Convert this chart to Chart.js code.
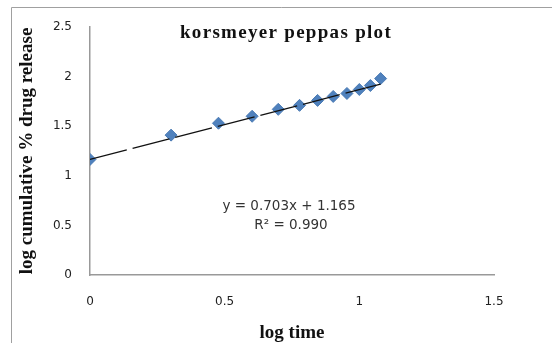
<!DOCTYPE html>
<html>
<head>
<meta charset="utf-8">
<script src="https://cdn.jsdelivr.net/npm/chart.js@4"></script>
<style>
  html, body { margin: 0; padding: 0; background: #fff; }
  #wrap { width: 552px; height: 343px; position: relative; }
</style>
</head>
<body>
<div id="wrap"><canvas id="kp-chart"></canvas></div>
<script>
// Data
const logTime = [0, 0.301, 0.477, 0.602, 0.699, 0.778, 0.845, 0.903, 0.954, 1.0, 1.041, 1.079];
const logRelease = [1.165, 1.41, 1.53, 1.60, 1.67, 1.71, 1.76, 1.80, 1.83, 1.87, 1.91, 1.98];

// Linear trendline end points
const trendX = [0, 1.079];
const trendY = [1.165, 1.924];

const chartTitle = "korsmeyer peppas plot";
const equationLines = ["y = 0.703x + 1.165", "R\u00B2 = 0.990"];

const xTicks = [0, 0.5, 1, 1.5];
const yTicks = [0, 0.5, 1, 1.5, 2, 2.5];

const ctx = document.getElementById("kp-chart").getContext("2d");

// frame, title and equation drawn on the canvas
const annotations = {
    id: "annotations",
    beforeDraw(chart) {
        const c = chart.ctx;
        c.save();
        c.strokeStyle = "#a0a0a0";
        c.lineWidth = 1;
        c.beginPath();
        c.moveTo(11.5, 343);
        c.lineTo(11.5, 7.5);
        c.lineTo(552, 7.5);
        c.stroke();
        c.restore();
    },
    afterDraw(chart) {
        const c = chart.ctx;
        const area = chart.chartArea;
        const mid = (area.left + area.right) / 2;
        c.save();
        c.fillStyle = "#111";
        c.font = "bold 19px 'Liberation Serif'";
        c.letterSpacing = "1.3px";
        c.textAlign = "center";
        c.textBaseline = "middle";
        c.fillText(chartTitle, mid - 6, 33);

        c.letterSpacing = "0px";
        c.fillStyle = "#333";
        c.font = "13.5px 'DejaVu Sans'";
        c.fillText(equationLines[0], mid - 3, 206);
        c.fillText(equationLines[1], mid - 1, 225);
        c.restore();
    },
};

const plainNumber = (v) => String(v);

new Chart(ctx, {
    type: "scatter",
    data: {
        datasets: [
            {
                label: "log cumulative % drug release",
                data: logTime.map((x, i) => ({ x: x, y: logRelease[i] })),
                pointStyle: "rectRot",
                pointRadius: 6,
                backgroundColor: "#4f81bd",
                borderColor: "#4a7ab3",
                borderWidth: 1,
                order: 2,
            },
            {
                label: "Linear",
                type: "line",
                data: trendX.map((x, i) => ({ x: x, y: trendY[i] })),
                borderColor: "#111",
                borderWidth: 1.3,
                borderDash: [38, 6],
                pointRadius: 0,
                fill: false,
                order: 1,
            },
        ],
    },
    plugins: [annotations],
    options: {
        responsive: true,
        maintainAspectRatio: false,
        animation: false,
        layout: { padding: { left: 0, top: 27, right: 58, bottom: 0 } },
        plugins: {
            legend: { display: false },
            tooltip: { enabled: false },
        },
        scales: {
            x: {
                type: "linear",
                min: 0,
                max: 1.5,
                afterBuildTicks: (s) => { s.ticks = xTicks.map((v) => ({ value: v })); },
                afterFit: (s) => { s.height = 68; },
                grid: { display: false, drawTicks: false },
                border: { color: "#999", width: 1.5 },
                ticks: {
                    padding: 20,
                    color: "#222",
                    font: { family: "'DejaVu Sans'", size: 12 },
                    maxRotation: 0,
                    callback: plainNumber,
                },
                title: {
                    display: true,
                    text: "log time",
                    color: "#111",
                    font: { family: "'Liberation Serif'", size: 19, weight: "bold", lineHeight: 1.0 },
                    padding: 0,
                },
            },
            y: {
                type: "linear",
                min: 0,
                max: 2.5,
                afterBuildTicks: (s) => { s.ticks = yTicks.map((v) => ({ value: v })); },
                afterFit: (s) => { s.width = 90; },
                grid: { display: false, drawTicks: false },
                border: { color: "#999", width: 1.5 },
                ticks: {
                    padding: 18,
                    color: "#222",
                    font: { family: "'DejaVu Sans'", size: 12 },
                    callback: plainNumber,
                },
                title: {
                    display: true,
                    text: "log cumulative % drug release",
                    color: "#111",
                    font: { family: "'Liberation Serif'", size: 19, weight: "bold", lineHeight: 1.2 },
                    padding: { top: 16, bottom: 0 },
                },
            },
        },
    },
});
</script>
</body>
</html>
